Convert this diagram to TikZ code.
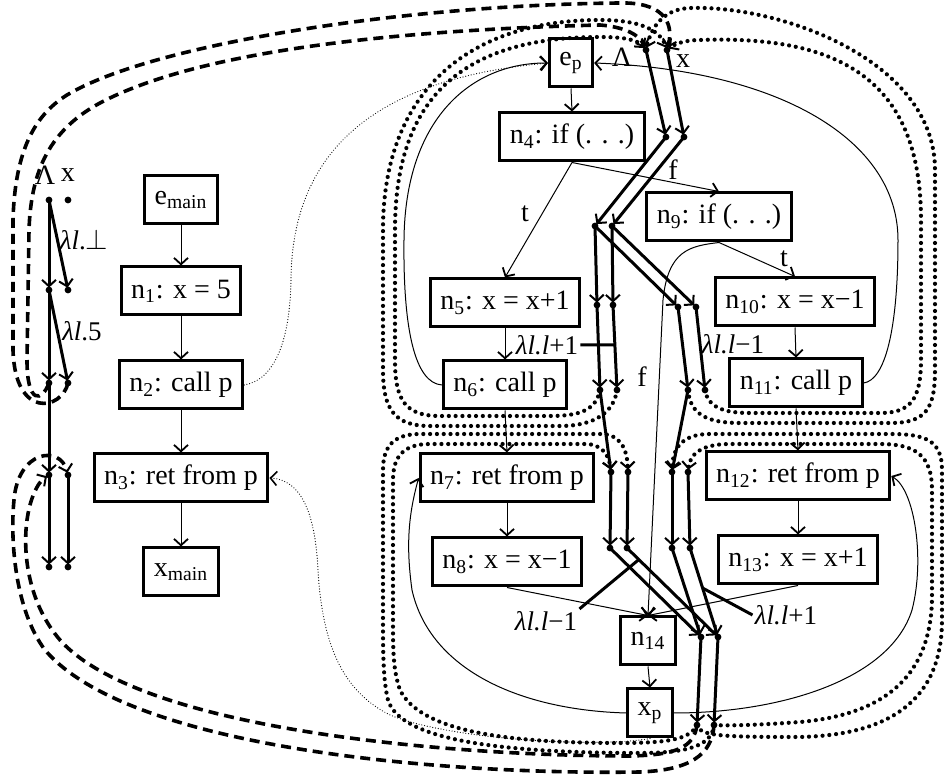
\documentclass[tikz,border=0pt]{standalone}
\usepackage{fontspec}
\setmainfont{Liberation Serif}
\usetikzlibrary{arrows.meta, calc}

\begin{document}
\begin{tikzpicture}[x = 0.5pt, y = -0.5pt, font = \fontsize{14}{16}\selectfont,
	box/.style = {draw, line width = 1.5pt, minimum height = 24pt, inner xsep = 5pt},
	flow/.style = {line width = 0.5pt, -{Straight Barb[length = 3.2pt, width = 7pt, line width = 0.9pt]}},
	fact/.style = {line width = 1.5pt, shorten > = 1.2pt, -{Straight Barb[length = 3.2pt, width = 7pt, line width = 1pt]}},
	summary/.style = {line width = 1.8pt, dash pattern = on 5pt off 3pt, shorten > = 1.2pt, -{Straight Barb[length = 3.2pt, width = 7pt, line width = 1pt]}},
	callret/.style = {line width = 2.1pt, line cap = round, dash pattern = on 0pt off 3.4pt, shorten > = 1.2pt, -{Straight Barb[length = 3.2pt, width = 7pt, line width = 1pt]}},
	link/.style = {line width = 0.6pt, line cap = round, dash pattern = on 0pt off 1.4pt, -{Straight Barb[length = 3.2pt, width = 7pt, line width = 0.8pt]}},
	lam/.style = {font = \fontsize{13.5}{15}\selectfont, inner sep = 1pt}]
	\useasboundingbox (0, 0) rectangle (944, 780);

	\node[box] (emain) at (181, 200) {e\textsubscript{main}};
	\node[box] (n1) at (181, 291) {n\textsubscript{1}: x = 5};
	\node[box] (n2) at (181, 385) {n\textsubscript{2}: call p};
	\node[box] (n3) at (181, 478) {n\textsubscript{3}: ret from p};
	\node[box] (xmain) at (181, 572) {x\textsubscript{main}};

	\node[box] (ep) at (571, 63) {e\textsubscript{p}};
	\node[box] (n4) at (572, 137) {n\textsubscript{4}: if (. . .)};
	\node[box] (n9) at (719, 217) {n\textsubscript{9}: if (. . .)};
	\node[box] (n5) at (505, 303) {n\textsubscript{5}: x = x+1};
	\node[box] (n10) at (795, 302) {n\textsubscript{10}: x = x−1};
	\node[box] (n6) at (505, 385) {n\textsubscript{6}: call p};
	\node[box] (n11) at (796, 383) {n\textsubscript{11}: call p};
	\node[box] (n7) at (507, 478) {n\textsubscript{7}: ret from p};
	\node[box] (n12) at (798, 476) {n\textsubscript{12}: ret from p};
	\node[box] (n8) at (507, 562) {n\textsubscript{8}: x = x−1};
	\node[box] (n13) at (798, 560) {n\textsubscript{13}: x = x+1};
	\node[box] (n14) at (648, 641) {n\textsubscript{14}};
	\node[box] (xp) at (650, 713) {x\textsubscript{p}};

	\foreach \n/\y in {0/200, 1/290, 2/383, 3/475, 4/567} {
		\coordinate (mainL\n) at (49, \y);
		\coordinate (mainX\n) at (68, \y);
	}
	\foreach \n/\u/\v/\w/\z in {0/646/50/667/50, 1/666/137/684/137, 2/595/226/612/226, 3/597/305/613/305, 4/678/307/696/307, 5/600/390/617/390, 6/688/390/705/390, 7/611/472/628/472, 8/610/548/627/548, 9/672/472/688/472, 10/672/548/690/548, 11/701/637/718/637, 12/697/725/714/725} {
		\coordinate (pL\n) at (\u, \v);
		\coordinate (pX\n) at (\w, \z);
	}

	\draw[flow] (emain.south) -- (n1.north);
	\draw[flow] (n1.south) -- (n2.north);
	\draw[flow] (n2.south) -- (n3.north);
	\draw[flow] (n3.south) -- (xmain.north);

	\draw[flow] (ep.south) -- (n4.north);
	\draw[flow] (n4.south) -- (n5.north);
	\draw[flow] (n4.south) -- (n9.north);
	\draw[flow] (n9.south) -- (n10.north);
	\draw[flow] (n9.south) .. controls (690, 246) and (668, 250) .. (663, 300) -- (n14.north);
	\draw[flow] (n5.south) -- (n6.north);
	\draw[flow] (n6.south) -- (n7.north);
	\draw[flow] (n7.south) -- (n8.north);
	\draw[flow] (n8.south) -- (n14.north);
	\draw[flow] (n10.south) -- (n11.north);
	\draw[flow] (n11.south) -- (n12.north);
	\draw[flow] (n12.south) -- (n13.north);
	\draw[flow] (n13.south) -- (n14.north);
	\draw[flow] (n14.south) -- (xp.north);

	\draw[flow] (n6.west) .. controls (415, 383) and (403, 330) .. (404, 240) .. controls (405, 120) and (470, 63) .. (ep.west);
	\draw[flow] (n11.east) .. controls (885, 380) and (898, 330) .. (898, 240) .. controls (898, 140) and (780, 70) .. (ep.east);
	\draw[flow] (xp.west) .. controls (520, 710) and (430, 670) .. (412, 590) .. controls (405, 540) and (410, 510) .. (n7.west);
	\draw[flow] (xp.east) .. controls (780, 713) and (890, 680) .. (912, 610) .. controls (925, 560) and (915, 490) .. (n12.east);

	\draw[link] (n2.east) .. controls (275, 380) and (290, 340) .. (291, 280) .. controls (292, 120) and (420, 75) .. (ep.west);
	\draw[link] (xp.south) .. controls (600, 748) and (450, 740) .. (390, 715) .. controls (340, 690) and (322, 640) .. (318, 570) .. controls (315, 510) and (300, 480) .. (n3.east);

	\node (lt) at (525, 214) {t};
	\node (lf) at (673, 170) {f};
	\node (lt2) at (784, 259) {t};
	\node (lf2) at (642, 377) {f};

	\draw[summary] (mainL2) .. controls (42, 402) and (27, 405) .. (27, 360) -- (29, 230) .. controls (31, 170) and (50, 130) .. (100, 103) .. controls (200, 50) and (400, 30) .. (600, 25) .. controls (625, 27) and (640, 35) .. (pL0);
	\draw[summary] (mainX2) .. controls (62, 410) and (15, 420) .. (13, 350) -- (13, 220) .. controls (15, 150) and (35, 115) .. (67, 95) .. controls (150, 45) and (400, 5) .. (620, 3) .. controls (660, 2) and (675, 20) .. (pX0);
	\draw[summary] (pL12) .. controls (694, 748) and (675, 755) .. (630, 756) .. controls (450, 756) and (140, 730) .. (60, 640) .. controls (30, 605) and (24, 560) .. (26, 530) .. controls (28, 500) and (38, 482) .. (mainL3);
	\draw[summary] (pX12) .. controls (712, 755) and (690, 770) .. (640, 772) .. controls (450, 775) and (130, 750) .. (45, 650) .. controls (15, 610) and (10, 540) .. (14, 500) .. controls (18, 450) and (60, 445) .. (mainX3);

	\draw[callret] (pL5) .. controls (596, 410) and (580, 416) .. (550, 416) -- (440, 416) .. controls (405, 416) and (395, 400) .. (395, 360) -- (395, 230) .. controls (395, 100) and (460, 37) .. (600, 37) .. controls (625, 37) and (638, 40) .. (pL0);
	\draw[callret] (pX5) .. controls (614, 412) and (595, 426) .. (560, 426) -- (430, 426) .. controls (395, 426) and (383, 410) .. (383, 370) -- (383, 230) .. controls (383, 90) and (470, 20) .. (600, 20) .. controls (640, 20) and (660, 30) .. (pX0);
	\draw[callret] (pX6) .. controls (708, 408) and (725, 413) .. (750, 413) -- (880, 413) .. controls (910, 413) and (921, 400) .. (921, 360) -- (921, 220) .. controls (921, 80) and (840, 35) .. (700, 40) .. controls (685, 40) and (675, 44) .. (pX0);
	\draw[callret] (pL6) .. controls (690, 413) and (705, 423) .. (740, 423) -- (890, 423) .. controls (925, 423) and (935, 410) .. (935, 370) -- (935, 170) .. controls (935, 60) and (780, 5) .. (690, 8) .. controls (665, 9) and (652, 25) .. (pL0);
	\draw[callret] (pX12) .. controls (725, 726) and (760, 725) .. (800, 722) .. controls (880, 715) and (930, 680) .. (932, 600) -- (932, 490) .. controls (932, 455) and (915, 444) .. (880, 444) -- (730, 444) .. controls (700, 444) and (690, 455) .. (pX9);
	\draw[callret] (pL12) .. controls (700, 736) and (720, 737) .. (800, 737) .. controls (890, 735) and (942, 700) .. (942, 620) -- (942, 470) .. controls (942, 440) and (925, 434) .. (890, 434) -- (710, 434) .. controls (685, 434) and (673, 445) .. (pL9);
	\draw[callret] (pL12) .. controls (690, 740) and (665, 743) .. (620, 743) .. controls (500, 743) and (420, 730) .. (400, 690) .. controls (393, 670) and (393, 650) .. (393, 620) -- (393, 480) .. controls (393, 455) and (405, 444) .. (430, 444) -- (585, 444) .. controls (602, 444) and (609, 455) .. (pL7);
	\draw[callret] (pX12) .. controls (712, 745) and (690, 753) .. (640, 753) .. controls (500, 753) and (400, 740) .. (388, 700) .. controls (383, 680) and (383, 650) .. (383, 620) -- (383, 470) .. controls (383, 445) and (395, 434) .. (420, 434) -- (600, 434) .. controls (620, 434) and (627, 448) .. (pX7);

	\draw[fact] (mainL0) -- (mainL1);
	\draw[fact] (mainL0) -- (mainX1);
	\draw[fact] (mainL1) -- (mainL2);
	\draw[fact] (mainL1) -- (mainX2);
	\draw[fact] (mainL2) -- (mainL3);
	\draw[fact] (mainL3) -- (mainL4);
	\draw[fact] (mainX3) -- (mainX4);

	\foreach \a/\b in {0/1, 1/2, 2/3, 2/4, 3/5, 4/6, 7/8, 9/10, 8/11, 10/11, 11/12} {
		\draw[fact] (pL\a) -- (pL\b);
		\draw[fact] (pX\a) -- (pX\b);
	}
	\draw[fact] (pL5) -- (pL7);
	\draw[fact] (pL6) -- (pL9);

	\foreach \n in {0, ..., 4}
	\fill (mainL\n) circle (1.7pt) (mainX\n) circle (1.7pt);
	\foreach \n in {0, ..., 12}
	\fill (pL\n) circle (1.7pt) (pX\n) circle (1.7pt);

	\node (mainLname) at (45, 175) {Λ};
	\node (mainXname) at (68, 175) {x};
	\node (pLname) at (622, 57) {Λ};
	\node (pXname) at (683, 61) {x};

	\node[lam] (lamBot) at (84, 240) {\textit{λl}.$\bot$};
	\node[lam] (lamFive) at (82, 331) {\textit{λl}.5};
	\node[lam] (lamInc) at (547, 345) {\textit{λl.l}+1};
	\node[lam] (lamDec) at (733, 344) {\textit{λl.l}−1};
	\node[lam] (lamDec2) at (546, 621) {\textit{λl.l}−1};
	\node[lam] (lamInc2) at (786, 615) {\textit{λl.l}+1};
	\draw[line width = 1.5pt] (lamInc.east) -- ($(pX3)!0.47!(pX5)$);
	\draw[line width = 1.5pt] (lamDec2.north east) -- ($(pX8)!0.13!(pX11)$);
	\draw[line width = 1.5pt] (lamInc2.west) -- ($(pX10)!0.45!(pX11)$);
\end{tikzpicture}
\end{document}
